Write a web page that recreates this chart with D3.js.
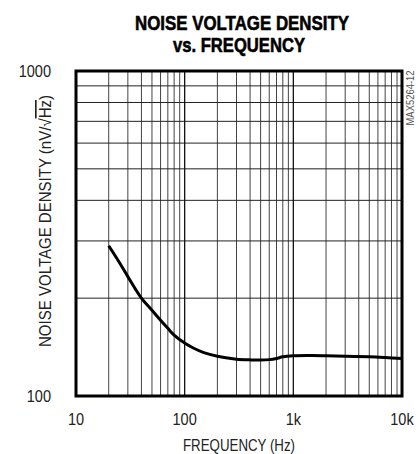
<!DOCTYPE html>
<html>
<head>
<meta charset="utf-8">
<script src="https://cdn.jsdelivr.net/npm/d3@7"></script>
<style>
  html, body { margin: 0; padding: 0; background: #fff; }
  svg { display: block; }
  text { font-family: "Liberation Sans", Arial, sans-serif; fill: #222; }
</style>
</head>
<body>
<svg width="419" height="454"></svg>
<script>
const width = 419;
const height = 454;
const margin = { top: 71, right: 17, bottom: 58, left: 76 };

// curve
const freq  = [20, 25, 30, 35, 40, 50, 60, 70, 80, 100, 120, 150, 200, 250, 300, 400, 500, 600, 700, 800, 1000, 1500, 2000, 3000, 5000, 7000, 10000];
const noise = [290, 258, 233, 214, 200, 183.5, 171, 161.5, 154, 145.5, 140.5, 136, 132.5, 130.8, 129.8, 129.2, 129, 129.4, 130.5, 132, 133, 133.2, 133, 132.6, 132, 131.3, 130.4];

const xTicks = [10, 100, 1000, 10000];
const xTickLabels = ["10", "100", "1k", "10k"];
const yTicks = [100, 1000];
const yTickLabels = ["100", "1000"];

const data = freq.map((f, i) => ({ f: f, v: noise[i] }));

const svg = d3.select("svg");

const x = d3.scaleLog()
  .domain([10, 10000])
  .range([margin.left, width - margin.right]);

const y = d3.scaleLog()
  .domain([100, 1000])
  .range([height - margin.bottom, margin.top]);

// squeeze text to look like the narrow font of the original
function narrow(sel, factor) {
  sel.each(function () {
    const w = this.getComputedTextLength();
    d3.select(this)
      .attr("textLength", w * factor)
      .attr("lengthAdjust", "spacingAndGlyphs");
  });
}

// minor grid at 2..9 of every decade
const xGrid = [];
for (let d = 10; d < 10000; d *= 10) {
  for (let k = 2; k <= 9; k++) xGrid.push(d * k);
}
const yGrid = d3.range(2, 10).map(k => k * 100);

svg.append("g")
  .selectAll("line")
  .data(xGrid)
  .join("line")
  .attr("x1", d => x(d)).attr("x2", d => x(d))
  .attr("y1", margin.top).attr("y2", height - margin.bottom)
  .attr("stroke", "#444")
  .attr("stroke-width", 1);

svg.append("g")
  .selectAll("line")
  .data(yGrid)
  .join("line")
  .attr("x1", margin.left).attr("x2", width - margin.right)
  .attr("y1", d => y(d)).attr("y2", d => y(d))
  .attr("stroke", "#222")
  .attr("stroke-width", 1);

// decade lines
svg.append("g")
  .selectAll("line")
  .data([100, 1000])
  .join("line")
  .attr("x1", d => x(d)).attr("x2", d => x(d))
  .attr("y1", margin.top).attr("y2", height - margin.bottom)
  .attr("stroke", "#111")
  .attr("stroke-width", 1.3);

// frame
svg.append("rect")
  .attr("x", margin.left)
  .attr("y", margin.top)
  .attr("width", width - margin.left - margin.right)
  .attr("height", height - margin.top - margin.bottom)
  .attr("fill", "none")
  .attr("stroke", "#000")
  .attr("stroke-width", 3);

const line = d3.line()
  .x(d => x(d.f))
  .y(d => y(d.v))
  .curve(d3.curveCatmullRom.alpha(0.5));

svg.append("path")
  .datum(data)
  .attr("d", line)
  .attr("fill", "none")
  .attr("stroke", "#000")
  .attr("stroke-width", 3)
  .attr("stroke-linejoin", "round");

// tick labels
svg.append("g")
  .selectAll("text")
  .data(xTicks)
  .join("text")
  .attr("x", d => x(d))
  .attr("y", 425)
  .attr("text-anchor", "middle")
  .attr("font-size", 16.5)
  .text((d, i) => xTickLabels[i])
  .call(narrow, 0.88);

svg.append("g")
  .selectAll("text")
  .data(yTicks)
  .join("text")
  .attr("x", 51)
  .attr("y", d => y(d) + 6)
  .attr("text-anchor", "end")
  .attr("font-size", 16.5)
  .text((d, i) => yTickLabels[i])
  .call(narrow, 0.88);

// axis titles
svg.append("text")
  .attr("x", 239)
  .attr("y", 451)
  .attr("text-anchor", "middle")
  .attr("font-size", 16.5)
  .attr("textLength", 112)
  .attr("lengthAdjust", "spacingAndGlyphs")
  .text("FREQUENCY (Hz)");

const yTitle = svg.append("text")
  .attr("transform", "translate(51,221) rotate(-90)")
  .attr("text-anchor", "middle")
  .attr("font-size", 16.5)
  .attr("textLength", 252)
  .attr("lengthAdjust", "spacingAndGlyphs");
yTitle.append("tspan").text("NOISE VOLTAGE DENSITY (nV/\u221A");
yTitle.append("tspan").attr("text-decoration", "overline").text("Hz");
yTitle.append("tspan").text(")");

// chart title
svg.append("text")
  .attr("x", 242)
  .attr("y", 30)
  .attr("text-anchor", "middle")
  .attr("font-size", 21)
  .attr("font-weight", "bold")
  .attr("textLength", 214)
  .attr("lengthAdjust", "spacingAndGlyphs")
  .style("fill", "#000")
  .style("stroke", "#000")
  .style("stroke-width", 0.6)
  .text("NOISE VOLTAGE DENSITY");

svg.append("text")
  .attr("x", 239)
  .attr("y", 52)
  .attr("text-anchor", "middle")
  .attr("font-size", 21)
  .attr("font-weight", "bold")
  .attr("textLength", 132)
  .attr("lengthAdjust", "spacingAndGlyphs")
  .style("fill", "#000")
  .style("stroke", "#000")
  .style("stroke-width", 0.6)
  .text("vs. FREQUENCY");

// part number tag
svg.append("text")
  .attr("transform", "translate(414,98) rotate(-90)")
  .attr("text-anchor", "middle")
  .attr("font-size", 10)
  .attr("textLength", 55)
  .attr("lengthAdjust", "spacingAndGlyphs")
  .style("fill", "#555")
  .text("MAX5264-12");
</script>
</body>
</html>
